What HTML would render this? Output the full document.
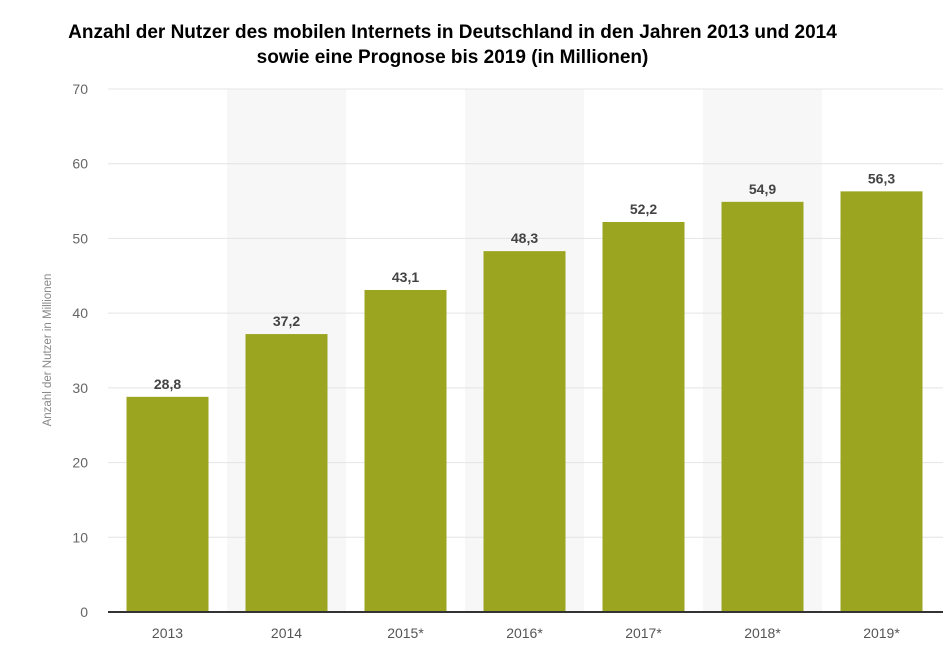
<!DOCTYPE html>
<html><head><meta charset="utf-8"><style>
body{margin:0;background:#fff;width:945px;height:669px;overflow:hidden;font-family:"Liberation Sans",sans-serif}
h1{position:absolute;left:0;top:20px;width:905px;margin:0;text-align:center;font-size:19px;font-weight:bold;line-height:25px;color:#000}
</style></head><body>
<h1>Anzahl der Nutzer des mobilen Internets in Deutschland in den Jahren 2013 und 2014<br>sowie eine Prognose bis 2019 (in Millionen)</h1>
<svg id="c" width="945" height="669" style="position:absolute;left:0;top:0"></svg>
<script>
const categories=["2013","2014","2015*","2016*","2017*","2018*","2019*"];
const values=[28.8,37.2,43.1,48.3,52.2,54.9,56.3];
const valueLabels=["28,8","37,2","43,1","48,3","52,2","54,9","56,3"];
const yTicks=[0,10,20,30,40,50,60,70];
const svg=document.getElementById('c');const NS='http://www.w3.org/2000/svg';
const x0=108,band=119,y0=612,yMax=70,plotH=523;
const y=v=>y0-v/yMax*plotH;
function mk(t,a,p){const e=document.createElementNS(NS,t);for(const k in a)e.setAttribute(k,a[k]);(p||svg).appendChild(e);return e;}
categories.forEach((c,i)=>{if(i%2==1){const r=mk('rect',{x:x0+i*band,y:y(yMax),width:band,height:plotH,fill:'#f7f7f7'});

}});
yTicks.forEach(t=>{const l=mk('line',{x1:x0,x2:943,y1:y(t),y2:y(t),stroke:'#e4e4e4','stroke-width':1});


const tx=mk('text',{x:88,y:y(t)+5,'text-anchor':'end','font-size':14,fill:'#666'});tx.textContent=t;

});
categories.forEach((c,i)=>{const cx=x0+i*band+band/2;
const b=mk('rect',{x:cx-41,y:y(values[i]),width:82,height:y0-y(values[i]),fill:'#9ba520'});


const v=mk('text',{x:cx,y:y(values[i])-8,'text-anchor':'middle','font-size':14,'font-weight':'bold',fill:'#444'});v.textContent=valueLabels[i];


const t=mk('text',{x:cx,y:638,'text-anchor':'middle','font-size':14,fill:'#555'});t.textContent=c;

});
const ax=mk('line',{x1:x0,x2:943,y1:y0,y2:y0,stroke:'#333','stroke-width':2});


const yt=mk('text',{x:0,y:0,'text-anchor':'middle','font-size':11.5,fill:'#888',transform:'translate(51,350) rotate(-90)'});yt.textContent='Anzahl der Nutzer in Millionen';


</script>
</body></html>
